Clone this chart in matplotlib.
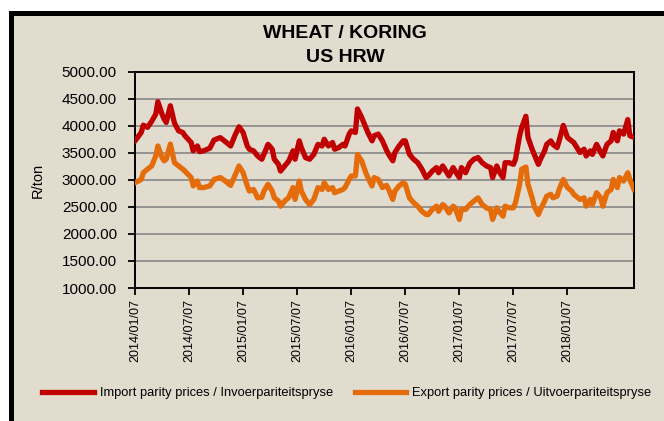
import matplotlib.pyplot as plt
from matplotlib.patches import Rectangle

# Week number (counted from 2014/01/07) of each point
weeks = [
    0, 3, 4, 6, 8, 10, 11, 13, 14, 15, 17, 19, 21, 23, 24, 27, 28, 30, 31, 33, 36,
    38, 41, 43, 46, 48, 50, 52, 54, 55, 57, 59, 61, 62, 64, 66, 67, 69, 70, 72, 74, 76, 77,
    79, 80, 82, 84, 86, 88, 90, 91, 93, 95, 96, 98, 100, 101, 103, 104, 106, 107, 109, 111,
    112, 114, 115, 117, 119,
    121, 122, 124, 125, 127, 129, 130, 132, 134, 136, 138, 140, 141, 143, 145, 146, 148, 149,
    151, 153, 154, 156, 157, 159,
    161, 163, 165, 167, 169, 171, 172, 174, 175, 177, 178, 180, 182, 183, 185, 186, 188, 189,
    191, 192, 194, 195, 197, 198,
    200, 201, 203, 204, 206, 208, 210, 211, 213, 214, 216, 217, 219, 220, 222, 224, 225, 227,
    229, 230, 232, 233, 235, 237, 238, 240,
]

# R/ton
import_prices = [
    3725, 3880, 4015, 3975, 4085, 4220, 4450, 4220, 4130, 4065, 4375, 4050, 3910, 3880, 3820,
    3695, 3540, 3630, 3525, 3540, 3590,
    3740, 3785, 3725, 3630, 3820, 3985, 3880, 3630, 3570, 3540, 3445, 3385, 3475, 3660, 3570,
    3385, 3290, 3165, 3260, 3355, 3540, 3385,
    3725, 3600, 3415, 3385, 3475, 3660, 3630, 3755, 3630, 3695, 3570, 3600, 3660, 3630, 3850,
    3910, 3880, 4315, 4160, 3975, 3880, 3725, 3820, 3850, 3725,
    3550, 3475, 3355, 3510, 3630, 3725, 3725, 3475, 3385, 3320, 3200, 3045, 3075, 3165, 3230,
    3135, 3260, 3200, 3075, 3230, 3165, 3045, 3230, 3135,
    3310, 3385, 3415, 3320, 3260, 3230, 3045, 3260, 3165, 3045, 3320, 3320, 3290, 3385, 3820,
    3975, 4180, 3790, 3570, 3475, 3290, 3385, 3540, 3660,
    3725, 3660, 3600, 3725, 4010, 3785, 3725, 3695, 3570, 3510, 3570, 3445, 3540, 3475, 3660,
    3510, 3445, 3660, 3725, 3880, 3725, 3910, 3850, 4120, 3820, 3790,
]

export_prices = [
    2950, 3010, 3135, 3200, 3260, 3445, 3630, 3415, 3355, 3385, 3665, 3320, 3260, 3200, 3165,
    3045, 2890, 2980, 2860, 2860, 2890,
    3010, 3045, 2995, 2900, 3075, 3260, 3135, 2890, 2795, 2825, 2670, 2680, 2795, 2920, 2795,
    2670, 2610, 2515, 2610, 2680, 2860, 2640,
    2980, 2795, 2640, 2545, 2640, 2860, 2825, 2950, 2825, 2860, 2765, 2795, 2825, 2860, 3010,
    3075, 3075, 3475, 3355, 3135, 3045, 2890, 3045, 3010, 2860,
    2900, 2825, 2640, 2795, 2890, 2950, 2920, 2670, 2580, 2515, 2420, 2360, 2360, 2455, 2515,
    2420, 2545, 2515, 2390, 2515, 2485, 2270, 2455, 2455,
    2545, 2610, 2670, 2545, 2485, 2455, 2270, 2485, 2420, 2330, 2515, 2485, 2485, 2580, 2920,
    3200, 3240, 2920, 2670, 2515, 2360, 2455, 2610, 2700,
    2735, 2670, 2700, 2825, 3010, 2860, 2795, 2735, 2670, 2640, 2670, 2515, 2640, 2545, 2765,
    2670, 2515, 2765, 2825, 3010, 2860, 3045, 2980, 3135, 3010, 2825,
]

tick_weeks = [0, 26, 52, 78, 104, 130, 156, 182, 208]
tick_labels = [
    "2014/01/07", "2014/07/07", "2015/01/07", "2015/07/07", "2016/01/07",
    "2016/07/07", "2017/01/07", "2017/07/07", "2018/01/07",
]
y_ticks = [1000, 1500, 2000, 2500, 3000, 3500, 4000, 4500, 5000]

BG = '#E2DCCE'
RED = '#C00000'
ORANGE = '#E46C0A'


def plot_prices():
    plt.rcParams['font.family'] = ['Liberation Sans', 'DejaVu Sans']
    fig = plt.figure(figsize=(6.64, 4.21), dpi=100, facecolor='white')

    # parchment chart area with a thick black frame (cut off at right and bottom)
    frame = Rectangle((10.5 / 664, -0.2), 1.2, 0.2 + 1 - 12.5 / 421,
                      transform=fig.transFigure, facecolor=BG, edgecolor='black',
                      linewidth=3.6, zorder=-10)
    fig.patches.append(frame)

    ax = fig.add_axes([135 / 664, 1 - 288 / 421, 499 / 664, 216 / 421])
    ax.set_facecolor('none')

    ax.plot(weeks, import_prices, color=RED, linewidth=3.8, solid_joinstyle='round',
            label='Import parity prices / Invoerpariteitspryse', zorder=3)
    ax.plot(weeks, export_prices, color=ORANGE, linewidth=3.8, solid_joinstyle='round',
            label='Export parity prices / Uitvoerpariteitspryse', zorder=3)

    ax.set_xlim(0, 240)
    ax.set_ylim(1000, 5000)
    ax.set_yticks(y_ticks)
    ax.set_yticklabels([f'{v:.2f}' for v in y_ticks], fontsize=11)
    ax.set_xticks(tick_weeks)
    ax.set_xticklabels(tick_labels, rotation=90, fontsize=9)
    ax.tick_params(direction='out', length=5, width=1.3, color='black', pad=3)
    ax.tick_params(axis='y', pad=8)

    ax.yaxis.grid(True, color='#8E8E8E', linewidth=1.3)
    ax.set_axisbelow(True)
    for side in ax.spines.values():
        side.set_linewidth(1.4)
        side.set_color('black')

    ax.set_ylabel('R/ton', fontsize=10.5, labelpad=12)

    fig.text(0.52, 1 - 34 / 421, 'WHEAT / KORING', ha='center', va='center',
             fontsize=14, fontweight='bold')
    fig.text(0.52, 1 - 57 / 421, 'US HRW', ha='center', va='center',
             fontsize=14, fontweight='bold')

    fig.legend(loc='center', bbox_to_anchor=(0.522, 1 - 393 / 421), ncol=2,
               frameon=False, fontsize=9.3, handlelength=4.0, handletextpad=0.45,
               columnspacing=1.7)

    fig.savefig('out.png', dpi=100, facecolor=fig.get_facecolor())


if __name__ == '__main__':
    plot_prices()
